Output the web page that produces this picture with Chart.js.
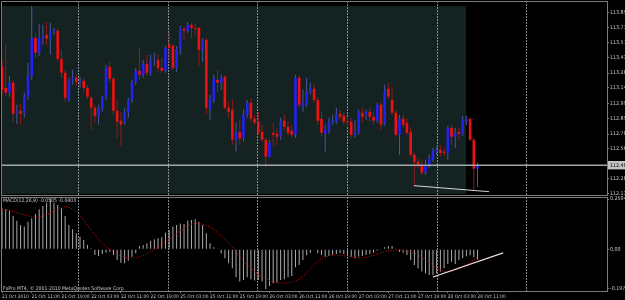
<!DOCTYPE html>
<html>
<head>
<meta charset="utf-8">
<script src="https://cdn.jsdelivr.net/npm/chart.js@4.4.0/dist/chart.umd.min.js"></script>
<style>
  html, body { margin: 0; padding: 0; background: #000; }
  #wrap { position: relative; width: 625px; height: 300px; overflow: hidden; background: #000; }
  #main { position: absolute; left: 0; top: 0; }
  #macd { position: absolute; left: 0; top: 196px; }
  .txt { position: absolute; color: #c8c8c8; font-family: 'Liberation Sans Narrow', 'DejaVu Sans Condensed', sans-serif; font-size: 5.1px; line-height: 6px; white-space: nowrap; }
</style>
</head>
<body>
<div id="wrap">
  <canvas id="main" width="625" height="196"></canvas>
  <canvas id="macd" width="625" height="104"></canvas>
  <div class="txt" style="left:3px;top:197px">MACD(12,26,9) -0.0505 -0.0403</div>
  <div class="txt" style="left:3px;top:285px">FxPro MT4, © 2001-2010 MetaQuotes Software Corp.</div>
</div>
<script>
// USDJPY H1, 21 Oct 2010 03:00 -> 28 Oct 2010 11:00
const opens = [
  113.340, 113.140, 113.093, 113.188, 112.903, 112.922, 112.903, 113.055, 113.254, 113.615,
  113.473, 113.615, 113.644, 113.606, 113.677, 113.682, 113.416, 113.283, 113.026, 113.207,
  113.235, 113.197, 113.207, 113.140, 113.045, 112.950, 112.874, 112.941, 113.055, 113.340,
  113.226, 112.922, 112.827, 112.817, 112.912, 113.026, 113.197, 113.302, 113.264, 113.368,
  113.283, 113.397, 113.406, 113.330, 113.302, 113.549, 113.539, 113.330, 113.511, 113.701,
  113.682, 113.739, 113.710, 113.710, 113.501, 113.596, 112.941, 113.026, 113.216, 113.188,
  113.245, 112.950, 112.931, 112.646, 112.722, 112.665, 112.884, 112.998, 112.846, 112.817,
  112.722, 112.646, 112.485, 112.712, 112.703, 112.684, 112.827, 112.770, 112.731, 112.693,
  113.235, 112.969, 112.979, 113.102, 113.131, 113.026, 112.846, 112.703, 112.731, 112.817,
  112.817, 112.893, 112.874, 112.817, 112.817, 112.693, 112.712, 112.903, 112.884, 112.912,
  112.865, 112.827, 112.979, 112.798, 113.131, 113.026, 112.903, 112.693, 112.846, 112.808,
  112.722, 112.504, 112.437, 112.409, 112.333, 112.399, 112.456, 112.532, 112.551, 112.532,
  112.522, 112.760, 112.674, 112.722, 112.703, 112.817, 112.846, 112.646, 112.371
];
const highs = [
  113.406, 113.549, 113.254, 113.216, 112.979, 112.988, 113.093, 113.378, 113.919, 113.663,
  113.748, 113.739, 113.767, 113.758, 113.710, 113.701, 113.501, 113.311, 113.235, 113.311,
  113.264, 113.245, 113.235, 113.169, 113.064, 112.979, 112.979, 113.064, 113.359, 113.387,
  113.245, 113.026, 112.912, 112.950, 113.045, 113.216, 113.330, 113.520, 113.406, 113.454,
  113.454, 113.473, 113.454, 113.425, 113.539, 113.663, 113.558, 113.539, 113.729, 113.720,
  113.767, 113.758, 113.748, 113.720, 113.615, 113.615, 113.074, 113.264, 113.311, 113.264,
  113.264, 113.007, 113.026, 112.808, 112.836, 112.931, 113.026, 113.045, 112.884, 112.912,
  112.789, 112.665, 112.646, 112.808, 112.760, 112.855, 112.884, 112.817, 112.789, 113.264,
  113.254, 113.121, 113.235, 113.188, 113.169, 113.055, 112.912, 112.789, 112.855, 112.884,
  112.950, 112.931, 112.903, 112.855, 112.855, 112.836, 112.931, 112.950, 112.931, 112.950,
  112.912, 112.998, 113.007, 113.169, 113.188, 113.150, 112.931, 112.884, 112.884, 112.855,
  112.760, 112.522, 112.475, 112.456, 112.456, 112.504, 112.570, 112.579, 112.598, 112.570,
  112.779, 112.789, 112.760, 112.760, 112.874, 112.874, 112.855, 112.665, 112.428
];
const lows = [
  113.074, 113.064, 113.055, 112.817, 112.798, 112.789, 112.855, 113.026, 113.216, 113.425,
  113.444, 113.549, 113.549, 113.454, 113.644, 113.387, 113.235, 113.007, 113.007, 113.169,
  113.159, 113.140, 113.102, 113.026, 112.741, 112.808, 112.789, 112.912, 113.026, 113.197,
  112.884, 112.665, 112.579, 112.789, 112.855, 112.998, 113.169, 113.216, 113.235, 113.254,
  113.254, 113.349, 113.292, 113.292, 113.283, 113.406, 113.311, 113.292, 113.454, 113.596,
  113.663, 113.615, 113.634, 113.349, 113.387, 112.884, 112.836, 112.998, 113.102, 113.121,
  112.931, 112.855, 112.598, 112.532, 112.598, 112.627, 112.855, 112.817, 112.789, 112.693,
  112.627, 112.390, 112.475, 112.579, 112.598, 112.646, 112.741, 112.684, 112.665, 112.665,
  112.950, 112.912, 112.960, 113.074, 112.998, 112.789, 112.674, 112.532, 112.703, 112.789,
  112.798, 112.836, 112.789, 112.779, 112.665, 112.665, 112.693, 112.817, 112.836, 112.817,
  112.789, 112.808, 112.741, 112.779, 113.036, 112.884, 112.674, 112.504, 112.760, 112.693,
  112.485, 112.200, 112.380, 112.314, 112.314, 112.380, 112.437, 112.504, 112.485, 112.494,
  112.456, 112.598, 112.570, 112.646, 112.684, 112.789, 112.636, 112.171, 112.200
];
const closes = [
  113.121, 113.093, 113.188, 112.893, 112.922, 112.893, 113.055, 113.254, 113.615, 113.473,
  113.615, 113.634, 113.606, 113.682, 113.685, 113.416, 113.283, 113.045, 113.207, 113.235,
  113.197, 113.207, 113.140, 113.055, 112.950, 112.874, 112.941, 113.055, 113.330, 113.226,
  112.922, 112.817, 112.789, 112.912, 113.026, 113.197, 113.302, 113.264, 113.368, 113.283,
  113.397, 113.406, 113.330, 113.302, 113.520, 113.520, 113.330, 113.511, 113.701, 113.682,
  113.739, 113.710, 113.701, 113.501, 113.587, 112.950, 113.036, 113.226, 113.188, 113.235,
  112.950, 112.912, 112.646, 112.722, 112.656, 112.884, 112.998, 112.846, 112.808, 112.712,
  112.646, 112.485, 112.617, 112.693, 112.674, 112.827, 112.770, 112.712, 112.693, 113.235,
  112.979, 112.998, 113.102, 113.131, 113.026, 112.827, 112.712, 112.741, 112.817, 112.836,
  112.884, 112.865, 112.817, 112.812, 112.693, 112.712, 112.903, 112.865, 112.912, 112.865,
  112.827, 112.979, 112.789, 113.112, 113.055, 112.903, 112.693, 112.846, 112.789, 112.712,
  112.504, 112.437, 112.409, 112.333, 112.399, 112.466, 112.541, 112.551, 112.522, 112.520,
  112.760, 112.674, 112.712, 112.703, 112.836, 112.846, 112.646, 112.371, 112.404
];
const macdMain = [
  0.204, 0.199, 0.192, 0.166, 0.142, 0.121, 0.113, 0.137, 0.154, 0.176,
  0.199, 0.216, 0.232, 0.2504, 0.232, 0.221, 0.204, 0.166, 0.121, 0.100,
  0.080, 0.063, 0.046, 0.021, 0.005, -0.028, -0.033, -0.023, -0.017, -0.012,
  -0.028, -0.053, -0.067, -0.070, -0.057, -0.037, -0.020, 0.016, 0.021, 0.030,
  0.043, 0.050, 0.055, 0.060, 0.083, 0.096, 0.113, 0.121, 0.129, 0.126,
  0.142, 0.146, 0.149, 0.137, 0.121, 0.080, 0.030, 0.010, 0.002, -0.020,
  -0.045, -0.070, -0.095, -0.139, -0.161, -0.153, -0.139, -0.149, -0.156, -0.153,
  -0.161, -0.1977, -0.183, -0.169, -0.166, -0.153, -0.149, -0.139, -0.133, -0.090,
  -0.078, -0.053, -0.030, -0.017, -0.003, -0.020, -0.028, -0.037, -0.033, -0.028,
  -0.023, -0.020, -0.023, -0.028, -0.037, -0.045, -0.037, -0.033, -0.028, -0.023,
  -0.017, -0.007, -0.003, 0.010, 0.017, 0.017, 0.002, -0.012, -0.017, -0.028,
  -0.053, -0.078, -0.095, -0.111, -0.119, -0.128, -0.128, -0.119, -0.111, -0.095,
  -0.073, -0.062, -0.073, -0.053, -0.045, -0.035, -0.030, -0.040, -0.0505
];
const macdSignal = [
  0.197, 0.197, 0.196, 0.189, 0.182, 0.176, 0.171, 0.166, 0.162, 0.161,
  0.162, 0.166, 0.171, 0.182, 0.192, 0.201, 0.209, 0.212, 0.209, 0.200,
  0.187, 0.168, 0.146, 0.121, 0.096, 0.072, 0.050, 0.030, 0.013, 0.000,
  -0.012, -0.023, -0.033, -0.039, -0.043, -0.043, -0.042, -0.037, -0.030, -0.022,
  -0.013, -0.002, 0.010, 0.024, 0.038, 0.050, 0.063, 0.078, 0.093, 0.106,
  0.118, 0.125, 0.129, 0.129, 0.124, 0.118, 0.112, 0.098, 0.083, 0.066,
  0.050, 0.032, 0.013, -0.012, -0.037, -0.058, -0.078, -0.095, -0.111, -0.124,
  -0.136, -0.147, -0.156, -0.162, -0.166, -0.168, -0.169, -0.167, -0.164, -0.157,
  -0.149, -0.135, -0.119, -0.098, -0.078, -0.060, -0.045, -0.038, -0.033, -0.030,
  -0.028, -0.030, -0.032, -0.036, -0.040, -0.042, -0.043, -0.042, -0.040, -0.035,
  -0.030, -0.023, -0.017, -0.012, -0.007, -0.005, -0.003, -0.004, -0.005, -0.008,
  -0.012, -0.019, -0.028, -0.040, -0.055, -0.067, -0.080, -0.092, -0.102, -0.110,
  -0.113, -0.110, -0.104, -0.096, -0.087, -0.076, -0.064, -0.052, -0.0403
];
const timeLabels = [
  "21 Oct 2010", "21 Oct 11:00", "21 Oct 19:00", "22 Oct 03:00", "22 Oct 11:00", "22 Oct 19:00",
  "25 Oct 03:00", "25 Oct 11:00", "25 Oct 19:00", "26 Oct 03:00", "26 Oct 11:00", "26 Oct 19:00",
  "27 Oct 03:00", "27 Oct 11:00", "27 Oct 19:00", "28 Oct 03:00", "28 Oct 11:00"
];
const labelStep = 8;
const priceTicks = [113.852, 113.710, 113.570, 113.430, 113.280, 113.140, 112.990, 112.850, 112.700, 112.560, 112.280, 112.130];
const bidPrice = 112.404;
const macdTicks = [0.2504, 0, -0.1977];
const gridBars = [20.7, 44.9, 68.9, 92.9, 117.1, 141.3];
const zone = { from: -2, to: 124.9, top: 113.919, bottom: 112.130 };
const priceTrend = [{ x: 110.9, y: 112.209 }, { x: 131.1, y: 112.152 }];
const macdTrend = [{ x: 116.0, y: -0.138 }, { x: 134.9, y: -0.018 }];

const xMin = -0.27, xMax = 162.85;
const fontFamily = "'Liberation Sans Narrow', 'DejaVu Sans Condensed', sans-serif";
const priceFont = { family: fontFamily, size: 5.3 };
const timeFont = { family: fontFamily, size: 4.8 };
const textColor = '#c8c8c8';
const frameColor = '#7c7c7c';
const gridColor = 'rgba(150,160,170,0.85)';

const isUp = i => closes[i] >= opens[i];
const idx = opens.map((_, i) => i);

// background zone + pane frame
const panes = {
  id: 'panes',
  beforeDraw(chart, args, opts) {
    if (!opts.zone) return;
    const { ctx, chartArea: a, scales: { x, y } } = chart;
    const l = Math.max(a.left, x.getPixelForValue(opts.zone.from));
    const r = Math.min(a.right, x.getPixelForValue(opts.zone.to));
    const t = Math.max(a.top, y.getPixelForValue(opts.zone.top));
    const b = Math.min(a.bottom, y.getPixelForValue(opts.zone.bottom));
    ctx.save();
    ctx.fillStyle = '#142222';
    ctx.fillRect(l, t, r - l, b - t);
    ctx.restore();
  },
  afterDraw(chart) {
    const { ctx, chartArea: a } = chart;
    ctx.save();
    ctx.strokeStyle = frameColor;
    ctx.lineWidth = 1;
    ctx.strokeRect(a.left + 0.5, a.top + 0.5, a.right - a.left, a.bottom - a.top);
    ctx.restore();
  }
};

function gridAxis() {
  return {
    type: 'linear', min: xMin, max: xMax, offset: false,
    grid: { offset: false, color: gridColor, drawTicks: false },
    border: { display: false, dash: [2, 1] },
    ticks: { display: false },
    afterBuildTicks: s => { s.ticks = gridBars.map(v => ({ value: v })); },
    afterFit: s => { s.height = 0; s.paddingLeft = 0; s.paddingRight = 0; }
  };
}

new Chart(document.getElementById('main'), {
  type: 'bar',
  data: {
    datasets: [
      {
        type: 'line',
        data: [{ x: xMin, y: bidPrice }, { x: xMax, y: bidPrice }],
        borderColor: '#a4a8a8', borderWidth: 1.5, pointRadius: 0
      },
      {
        type: 'line',
        data: priceTrend,
        borderColor: '#d4d4d4', borderWidth: 1, pointRadius: 0
      },
      {
        data: idx.map(i => ({ x: i, y: [opens[i], closes[i]] })),
        backgroundColor: c => isUp(c.dataIndex) ? '#2222ee' : '#ee1111',
        barThickness: 2.6, grouped: false, minBarLength: 1, borderWidth: 0, inflateAmount: 0
      },
      {
        data: idx.map(i => ({ x: i, y: [lows[i], highs[i]] })),
        backgroundColor: c => isUp(c.dataIndex) ? '#4a55a0' : '#8e1c1c',
        barThickness: 1, grouped: false, minBarLength: 1, borderWidth: 0, inflateAmount: 0
      }
    ]
  },
  options: {
    responsive: false, animation: false, devicePixelRatio: 1,
    layout: { padding: { left: 1, top: 1, right: 0, bottom: 1 } },
    plugins: { legend: { display: false }, tooltip: { enabled: false }, panes: { zone: zone } },
    scales: {
      x: gridAxis(),
      y: {
        position: 'right', min: 112.1204, max: 113.966, beginAtZero: false,
        grid: { drawOnChartArea: false, drawTicks: true, tickLength: 2, color: frameColor },
        border: { display: true, color: frameColor },
        ticks: {
          font: priceFont, padding: 1, autoSkip: false,
          color: c => c.tick.value === bidPrice ? '#000' : textColor,
          showLabelBackdrop: c => c.tick.value === bidPrice,
          backdropColor: '#c4c4c4',
          backdropPadding: { top: 1, bottom: 1, left: 2, right: 6 },
          callback: v => v.toFixed(3)
        },
        afterBuildTicks: s => { s.ticks = priceTicks.concat([bidPrice]).map(v => ({ value: v })); },
        afterFit: s => { s.width = 18; s.paddingTop = 0; s.paddingBottom = 0; }
      }
    }
  },
  plugins: [panes]
});

new Chart(document.getElementById('macd'), {
  type: 'bar',
  data: {
    datasets: [
      {
        type: 'line', xAxisID: 'x',
        data: macdTrend,
        borderColor: '#f0dcdc', borderWidth: 1.2, pointRadius: 0
      },
      {
        type: 'line', xAxisID: 'x',
        data: idx.map(i => ({ x: i, y: macdSignal[i] })),
        borderColor: '#c81010', borderWidth: 1, borderDash: [1, 1.5], pointRadius: 0, tension: 0
      },
      {
        xAxisID: 'x',
        data: idx.map(i => ({ x: i, y: macdMain[i] })),
        backgroundColor: '#ababab',
        barThickness: 1, grouped: false, borderWidth: 0, inflateAmount: 0
      }
    ]
  },
  options: {
    responsive: false, animation: false, devicePixelRatio: 1,
    layout: { padding: { left: 1, top: 1, right: 0, bottom: 0 } },
    plugins: { legend: { display: false }, tooltip: { enabled: false }, panes: { zone: null } },
    scales: {
      x: {
        type: 'linear', min: xMin, max: xMax, offset: false,
        grid: { offset: false, drawOnChartArea: false, drawTicks: true, tickLength: 2, color: frameColor },
        border: { display: true, color: frameColor },
        ticks: {
          font: timeFont, color: textColor, padding: 1, align: 'start',
          maxRotation: 0, minRotation: 0, autoSkip: false,
          callback: v => timeLabels[Math.round(v / labelStep)]
        },
        afterBuildTicks: s => { s.ticks = timeLabels.map((_, k) => ({ value: k * labelStep })); },
        afterFit: s => { s.height = 9; s.paddingLeft = 0; s.paddingRight = 0; }
      },
      xg: gridAxis(),
      y: {
        position: 'right', min: -0.2077, max: 0.2604, beginAtZero: false,
        grid: { drawOnChartArea: false, drawTicks: true, tickLength: 2, color: frameColor },
        border: { display: true, color: frameColor },
        ticks: {
          font: priceFont, color: textColor, padding: 1, autoSkip: false,
          callback: v => v === 0 ? '0.00' : v.toFixed(4)
        },
        afterBuildTicks: s => { s.ticks = macdTicks.map(v => ({ value: v })); },
        afterFit: s => { s.width = 18; s.paddingTop = 0; s.paddingBottom = 0; }
      }
    }
  },
  plugins: [panes]
});
</script>
</body>
</html>
